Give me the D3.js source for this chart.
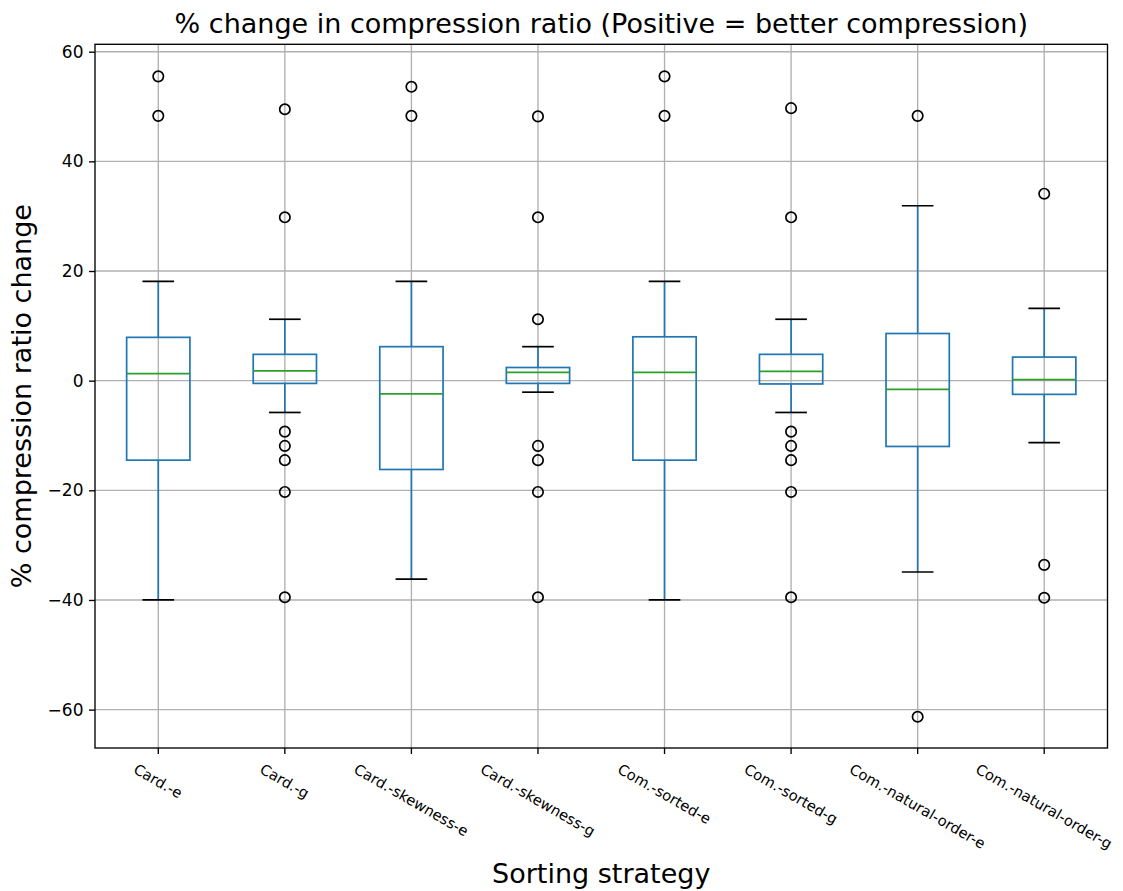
<!DOCTYPE html>
<html>
<head>
<meta charset="utf-8">
<script src="https://cdn.jsdelivr.net/npm/d3@7"></script>
<style>
  body { margin: 0; background: #fff; }
  svg { font-family: "DejaVu Sans", sans-serif; display: block; }
</style>
</head>
<body>
<div id="chart"></div>
<script>
// box stats (% change in compression ratio)
const strategies = ['Card.-e', 'Card.-g', 'Card.-skewness-e', 'Card.-skewness-g',
  'Com.-sorted-e', 'Com.-sorted-g', 'Com.-natural-order-e', 'Com.-natural-order-g'];
const whiskerLow = [-40.0, -5.8, -36.2, -2.1, -40.0, -5.8, -34.9, -11.3];
const q1 = [-14.5, -0.5, -16.2, -0.5, -14.5, -0.6, -12.0, -2.5];
const median = [1.3, 1.8, -2.4, 1.5, 1.5, 1.7, -1.6, 0.2];
const q3 = [7.9, 4.8, 6.2, 2.4, 8.0, 4.8, 8.6, 4.3];
const whiskerHigh = [18.1, 11.2, 18.1, 6.2, 18.1, 11.2, 31.9, 13.2];
const outliers = [
  [55.5, 48.3],
  [49.5, 29.8, -9.3, -11.9, -14.5, -20.3, -39.5],
  [53.6, 48.3],
  [48.2, 29.8, 11.2, -11.9, -14.5, -20.3, -39.5],
  [55.5, 48.3],
  [49.7, 29.8, -9.3, -11.9, -14.5, -20.3, -39.5],
  [48.3, -61.3],
  [34.1, -33.6, -39.6]
];
const yTicks = [-60, -40, -20, 0, 20, 40, 60];

const width = 1123;
const height = 891;
const margin = {top: 44.3, right: 15.5, bottom: 143, left: 95};
const plotW = width - margin.left - margin.right;
const plotH = height - margin.top - margin.bottom;

const blue = '#1f77b4';
const green = '#2ca02c';
const lw = 1.7;

const svg = d3.select('#chart')
  .append('svg')
  .attr('width', width)
  .attr('height', height);

const g = svg.append('g')
  .attr('transform', `translate(${margin.left},${margin.top})`);

const x = d3.scaleBand()
  .domain(strategies)
  .range([0, plotW]);

const y = d3.scaleLinear()
  .domain([-67.0, 61.35])
  .range([plotH, 0]);

const cx = s => x(s) + x.bandwidth() / 2;
const boxW = x.bandwidth() * 0.5;
const capW = boxW * 0.5;

// grid
g.append('g')
  .selectAll('line.hgrid')
  .data(yTicks)
  .enter().append('line')
  .attr('x1', 0).attr('x2', plotW)
  .attr('y1', d => y(d)).attr('y2', d => y(d))
  .attr('stroke', '#b0b0b0')
  .attr('stroke-width', 1.35);

g.append('g')
  .selectAll('line.vgrid')
  .data(strategies)
  .enter().append('line')
  .attr('x1', d => cx(d)).attr('x2', d => cx(d))
  .attr('y1', 0).attr('y2', plotH)
  .attr('stroke', '#b0b0b0')
  .attr('stroke-width', 1.35);

// boxes
const box = g.append('g')
  .selectAll('g')
  .data(strategies)
  .enter().append('g');

box.append('line')
  .attr('x1', d => cx(d)).attr('x2', d => cx(d))
  .attr('y1', (d, i) => y(q1[i])).attr('y2', (d, i) => y(whiskerLow[i]))
  .attr('stroke', blue).attr('stroke-width', lw);

box.append('line')
  .attr('x1', d => cx(d)).attr('x2', d => cx(d))
  .attr('y1', (d, i) => y(q3[i])).attr('y2', (d, i) => y(whiskerHigh[i]))
  .attr('stroke', blue).attr('stroke-width', lw);

box.append('line')
  .attr('x1', d => cx(d) - capW / 2).attr('x2', d => cx(d) + capW / 2)
  .attr('y1', (d, i) => y(whiskerLow[i])).attr('y2', (d, i) => y(whiskerLow[i]))
  .attr('stroke', '#000').attr('stroke-width', lw);

box.append('line')
  .attr('x1', d => cx(d) - capW / 2).attr('x2', d => cx(d) + capW / 2)
  .attr('y1', (d, i) => y(whiskerHigh[i])).attr('y2', (d, i) => y(whiskerHigh[i]))
  .attr('stroke', '#000').attr('stroke-width', lw);

box.append('rect')
  .attr('x', d => cx(d) - boxW / 2)
  .attr('width', boxW)
  .attr('y', (d, i) => y(q3[i]))
  .attr('height', (d, i) => y(q1[i]) - y(q3[i]))
  .attr('fill', 'none')
  .attr('stroke', blue).attr('stroke-width', lw);

box.append('line')
  .attr('x1', d => cx(d) - boxW / 2).attr('x2', d => cx(d) + boxW / 2)
  .attr('y1', (d, i) => y(median[i])).attr('y2', (d, i) => y(median[i]))
  .attr('stroke', green).attr('stroke-width', lw);

box.each(function (d, i) {
  d3.select(this).selectAll('circle')
    .data(outliers[i])
    .enter().append('circle')
    .attr('cx', cx(d))
    .attr('cy', v => y(v))
    .attr('r', 5.2)
    .attr('fill', 'none')
    .attr('stroke', '#000')
    .attr('stroke-width', 1.7);
});

// y axis
const yAxis = g.append('g')
  .call(d3.axisLeft(y).tickValues(yTicks).tickSize(6).tickPadding(5.5));
yAxis.select('.domain').remove();
yAxis.selectAll('line').attr('stroke', '#000').attr('stroke-width', 1.35);
yAxis.selectAll('text')
  .attr('font-size', 17)
  .attr('font-family', 'DejaVu Sans')
  .attr('fill', '#000');

// x axis ticks
const xAxis = g.append('g')
  .attr('transform', `translate(0,${plotH})`);
xAxis.selectAll('line')
  .data(strategies)
  .enter().append('line')
  .attr('x1', d => cx(d)).attr('x2', d => cx(d))
  .attr('y1', 0).attr('y2', 6)
  .attr('stroke', '#000').attr('stroke-width', 1.35);

const tickFs = 14.7;
xAxis.selectAll('text')
  .data(strategies)
  .enter().append('text')
  .attr('font-size', tickFs)
  .attr('text-anchor', 'middle')
  .attr('dominant-baseline', 'central')
  .text(d => d)
  .attr('transform', function (d) {
    const w = this.getComputedTextLength();
    const bh = w * 0.5 + tickFs * 1.16 * 0.866;
    return `translate(${cx(d)},${12 + bh / 2}) rotate(30)`;
  });

// spines
g.append('rect')
  .attr('width', plotW).attr('height', plotH)
  .attr('fill', 'none')
  .attr('stroke', '#000').attr('stroke-width', 1.35);

// titles
svg.append('text')
  .attr('x', margin.left + plotW / 2)
  .attr('y', 33)
  .attr('text-anchor', 'middle')
  .attr('font-size', 27)
  .text('% change in compression ratio (Positive = better compression)');

svg.append('text')
  .attr('x', margin.left + plotW / 2)
  .attr('y', 883)
  .attr('text-anchor', 'middle')
  .attr('font-size', 27)
  .text('Sorting strategy');

svg.append('text')
  .attr('transform', `translate(31,${margin.top + plotH / 2}) rotate(-90)`)
  .attr('text-anchor', 'middle')
  .attr('font-size', 27)
  .text('% compression ratio change');
</script>
</body>
</html>
